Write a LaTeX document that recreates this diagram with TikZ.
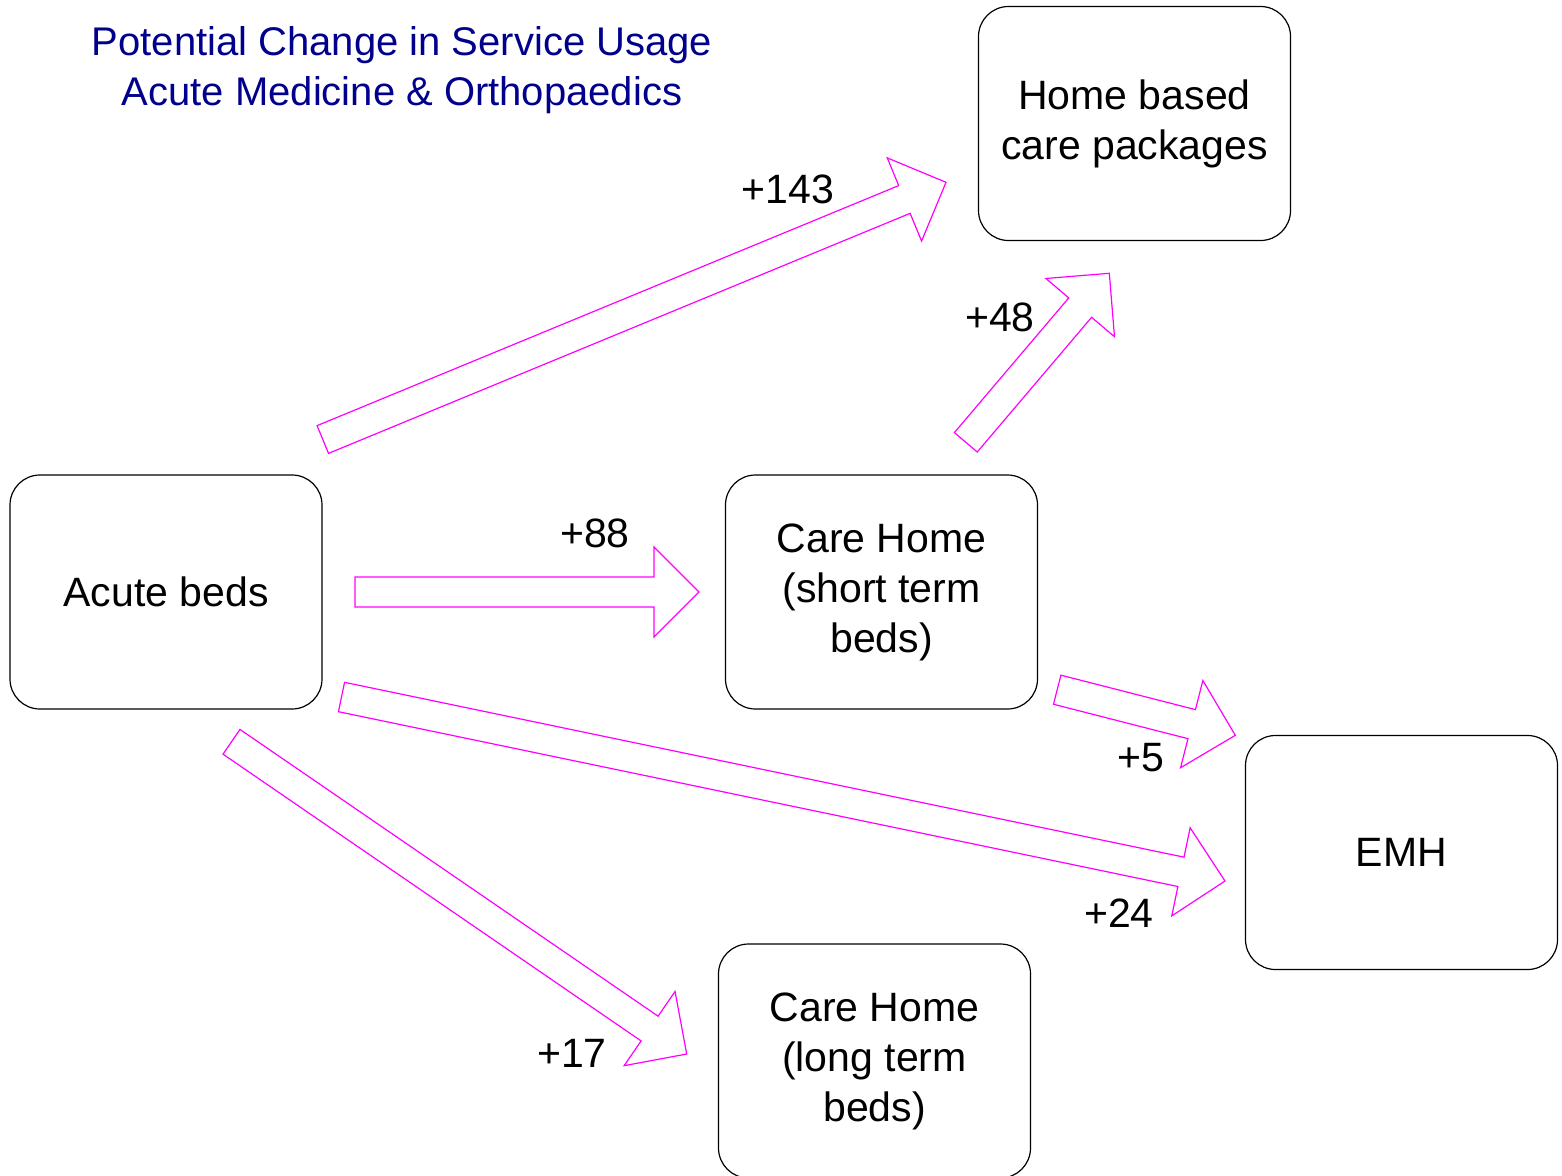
\documentclass[tikz,border=0pt]{standalone}
\usepackage{fontspec}
\setmainfont{Liberation Sans}
\usetikzlibrary{calc}
\definecolor{titleblue}{RGB}{0,0,140}
\definecolor{flowpink}{RGB}{255,0,255}

% hollow block arrow from tail centre #1 to tip #2
\newcommand{\blockarr}[2]{%
  \coordinate (hb) at ($(#2)!45pt!(#1)$);
  \draw[flow] ($(#1)!15pt!90:(#2)$) -- ($(hb)!15pt!90:(#2)$) -- ($(hb)!45pt!90:(#2)$)
    -- (#2) -- ($(hb)!45pt!-90:(#2)$) -- ($(hb)!15pt!-90:(#2)$) -- ($(#1)!15pt!-90:(#2)$) -- cycle;
}

\begin{document}
\begin{tikzpicture}[x=1pt,y=-1pt,
 box/.style={rectangle, rounded corners=30pt, draw=black, line width=1.2pt,
 minimum width=312pt, minimum height=234pt, inner sep=0pt, align=center,
 font=\fontsize{41}{50}\selectfont},
 flow/.style={draw=flowpink, line width=1.2pt, line join=miter},
 num/.style={font=\fontsize{41}{50}\selectfont, inner sep=0pt},
]
\useasboundingbox (0,0) rectangle (1562,1175);
\node[font=\fontsize{40}{50}\selectfont, text=titleblue, align=center] (title) at (402,70)
 {Potential Change in Service Usage\\Acute Medicine \& Orthopaedics};

\node[box] (acute) at (166,592) {Acute beds};
\node[box] (home) at (1134.5,123.5) {Home based\\care packages};
\node[box] (short) at (881.5,592) {Care Home\\(short term\\beds)};
\node[box] (emh) at (1401.5,852.5) {EMH};
\node[box] (long) at (874.5,1061) {Care Home\\(long term\\beds)};

% arrow ends
\coordinate (a143) at (322.8,439.5); \coordinate (b143) at (946,182.3);
\coordinate (a88) at (355,592); \coordinate (b88) at (699,592);
\coordinate (a48) at (965.8,442.3); \coordinate (b48) at (1109.3,273.3);
\coordinate (a5) at (1057.2,689.7); \coordinate (b5) at (1235.3,735.3);
\coordinate (a24) at (341.5,697); \coordinate (b24) at (1225,881);
\coordinate (a17) at (231.5,741.8); \coordinate (b17) at (686.7,1054);

\blockarr{a143}{b143}
\blockarr{a88}{b88}
\blockarr{a48}{b48}
\blockarr{a5}{b5}
\blockarr{a24}{b24}
\blockarr{a17}{b17}

\node[num] (n143) at (788,189) {+143};
\node[num] (n88) at (595,533) {+88};
\node[num] (n48) at (1000,317) {+48};
\node[num] (n5) at (1141,758) {+5};
\node[num] (n24) at (1119,913) {+24};
\node[num] (n17) at (572,1053) {+17};
\end{tikzpicture}
\end{document}
